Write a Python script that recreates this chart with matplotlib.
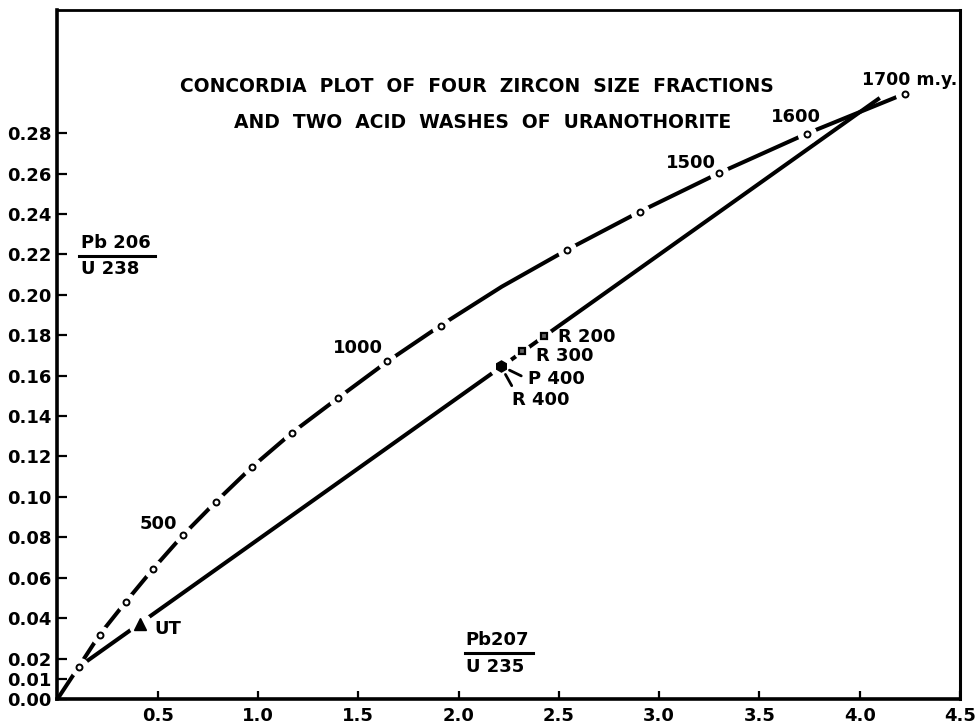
import numpy as np
import matplotlib
matplotlib.use("Agg")
import matplotlib.pyplot as plt

# concordia curve, one point per 100 m.y.
ages = [0, 100, 200, 300, 400, 500, 600, 700, 800, 900, 1000,
        1100, 1200, 1300, 1400, 1500, 1600, 1700]
pb207_u235 = [0.0, 0.105, 0.21, 0.34, 0.475, 0.625, 0.79, 0.97, 1.17, 1.40,
              1.645, 1.91, 2.215, 2.54, 2.905, 3.30, 3.735, 4.225]
pb206_u238 = [0.0, 0.0158, 0.0318, 0.048, 0.0642, 0.081, 0.0976, 0.1148,
              0.1318, 0.149, 0.167, 0.1848, 0.2040, 0.2222, 0.2412, 0.2603,
              0.2797, 0.2995]
# ages marked with an open circle (1200 has none)
marked = [100, 200, 300, 400, 500, 600, 700, 800, 900, 1000, 1100,
          1300, 1400, 1500, 1600, 1700]

# samples
ut = (0.41, 0.037)
p400 = (2.21, 0.1648)
r300 = (2.315, 0.1720)
r200 = (2.425, 0.1796)

# discordia chord ends
chord_x = [0.105, 4.10]
chord_y = [0.0158, 0.2974]

yticks = [0.00, 0.01, 0.02, 0.04, 0.06, 0.08, 0.10, 0.12, 0.14, 0.16,
          0.18, 0.20, 0.22, 0.24, 0.26, 0.28]
xticks = [0.5, 1.0, 1.5, 2.0, 2.5, 3.0, 3.5, 4.0, 4.5]

plt.rcParams['font.family'] = 'DejaVu Sans'
plt.rcParams['font.weight'] = 'bold'

fig = plt.figure(figsize=(9.76, 7.26), dpi=100)
ax = fig.add_axes([0.0589, 0.0372, 0.9247, 0.949])
ax.set_xlim(0, 4.5)
ax.set_ylim(0, 0.3409)

lw = 2.9
ax.plot(pb207_u235, pb206_u238, color='black', lw=lw, solid_capstyle='butt', zorder=2)
ax.plot(chord_x, chord_y, color='black', lw=lw, solid_capstyle='butt', zorder=2)

# white halos break the lines around each symbol
mx = [pb207_u235[ages.index(a)] for a in marked]
my = [pb206_u238[ages.index(a)] for a in marked]
ax.plot(mx, my, 'o', ms=14, mfc='white', mec='none', zorder=3)
ax.plot([ut[0], p400[0]], [ut[1], p400[1]], 'o', ms=17, mfc='white', mec='none', zorder=3)
ax.plot([r300[0], r200[0]], [r300[1], r200[1]], 'o', ms=12, mfc='white', mec='none', zorder=3)

ax.plot(mx, my, 'o', ms=4.3, mfc='white', mec='black', mew=1.4, zorder=4)
ax.plot(*ut, '^', ms=8.5, color='black', zorder=4)
ax.plot(*p400, 'h', ms=8, color='black', zorder=4)
ax.plot([r300[0], r200[0]], [r300[1], r200[1]], 's', ms=4.5, mfc='#666666',
        mec='black', mew=1.6, zorder=4)

fs = 13
ax.text(0.485, 0.0346, 'UT', fontsize=fs, va='center')
ax.text(2.495, 0.1790, 'R 200', fontsize=fs, va='center')
ax.text(2.385, 0.1697, 'R 300', fontsize=fs, va='center')
ax.annotate('P 400', xy=p400, xytext=(2.345, 0.1583), fontsize=fs, va='center',
            arrowprops=dict(arrowstyle='-', lw=2, color='black', relpos=(0, 0.5),
                            shrinkA=3, shrinkB=7))
ax.annotate('R 400', xy=p400, xytext=(2.265, 0.1480), fontsize=fs, va='center',
            arrowprops=dict(arrowstyle='-', lw=2, color='black', relpos=(0.05, 1.0),
                            shrinkA=2, shrinkB=7))

ax.text(0.595, 0.0866, '500', fontsize=fs, ha='right', va='center')
ax.text(1.625, 0.1737, '1000', fontsize=fs, ha='right', va='center')
ax.text(3.285, 0.2652, '1500', fontsize=fs, ha='right', va='center')
ax.text(3.68, 0.2880, '1600', fontsize=fs, ha='center', va='center')
ax.text(4.01, 0.3063, '1700 m.y.', fontsize=12.5, ha='left', va='center')

ax.text(2.09, 0.3030, 'CONCORDIA  PLOT  OF  FOUR  ZIRCON  SIZE  FRACTIONS',
        fontsize=13.5, ha='center', va='center')
ax.text(2.12, 0.2850, 'AND  TWO  ACID  WASHES  OF  URANOTHORITE',
        fontsize=13.5, ha='center', va='center')

# axis ratio labels drawn as fractions
ax.text(0.115, 0.2254, 'Pb 206', fontsize=fs, va='center')
ax.plot([0.107, 0.485], [0.2194, 0.2194], color='black', lw=2.2)
ax.text(0.115, 0.2130, 'U 238', fontsize=fs, va='center')
ax.text(2.035, 0.0290, 'Pb207', fontsize=fs, va='center')
ax.plot([2.03, 2.37], [0.0230, 0.0230], color='black', lw=2.2)
ax.text(2.035, 0.0156, 'U 235', fontsize=fs, va='center')

ax.set_yticks(yticks)
ax.set_yticklabels(['%.2f' % v for v in yticks])
ax.set_xticks(xticks)
ax.set_xticklabels(['%.1f' % v for v in xticks])
ax.tick_params(axis='y', direction='in', length=7.5, width=1.6, labelsize=fs, pad=4)
ax.tick_params(axis='x', direction='in', length=6, width=1.6, labelsize=fs, pad=6)

ax.spines['left'].set_linewidth(2.6)
ax.spines['bottom'].set_linewidth(2.6)
ax.spines['top'].set_linewidth(2.0)
ax.spines['right'].set_linewidth(2.2)

fig.savefig('out.png', dpi=100)
